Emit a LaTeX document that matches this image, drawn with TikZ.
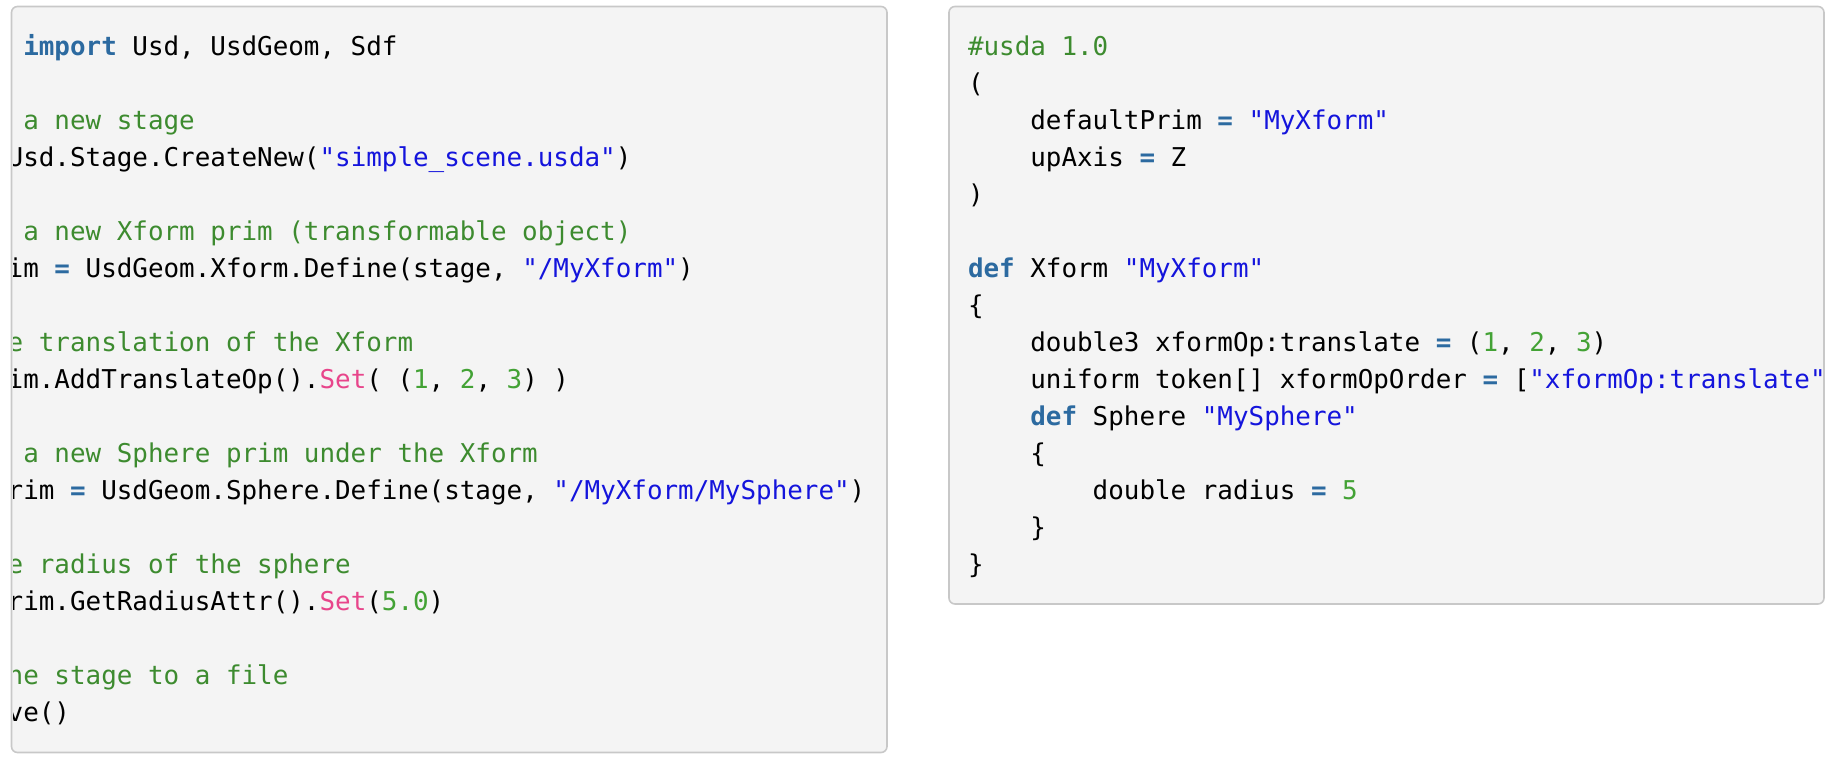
\documentclass[tikz,border=0pt]{standalone}
\usepackage{fontspec}
\setmonofont{DejaVu Sans Mono}
\usepackage{xcolor}
\definecolor{bgc}{HTML}{F4F4F4}
\definecolor{brdc}{HTML}{C8C8C8}
\definecolor{txtc}{HTML}{000000}
\definecolor{cmtc}{HTML}{3D8B2F}
\definecolor{numc}{HTML}{43A235}
\definecolor{kwc}{HTML}{2C6AA0}
\definecolor{strc}{HTML}{1414DC}
\definecolor{fnc}{HTML}{E8458B}
\newcommand\CCmt[1]{\textcolor{cmtc}{#1}}
\newcommand\CNum[1]{\textcolor{numc}{#1}}
\newcommand\CKw[1]{\textcolor{kwc}{\bfseries #1}}
\newcommand\CStr[1]{\textcolor{strc}{#1}}
\newcommand\CFn[1]{\textcolor{fnc}{#1}}
\newcommand\COp{\textcolor{kwc}{\bfseries =}}
\newcommand\codeCW{15.59}
\newcommand\codeLX{-117}
\newcommand\codeRX{968}
\begin{document}
\begin{tikzpicture}[x=1pt,y=-1pt,
  codeline/.style={anchor=base west, inner sep=0pt, outer sep=0pt,
    font=\ttfamily\fontsize{25.9pt}{37pt}\selectfont, text=txtc},
  codebox/.style={fill=bgc, draw=brdc, line width=1.6pt, rounded corners=6pt}]
\useasboundingbox (0,0) rectangle (1832,758);
\draw[codebox] (11.5,6.5) rectangle (887,752.5);
\draw[codebox] (949,6.5) rectangle (1824,604);
% left code (scrolled horizontally)
\begin{scope}
\clip[rounded corners=5pt] (12.5,7.5) rectangle (886,751.5);
\node[codeline] (l1)  at ({\codeLX+9*\codeCW}, {55+0*37})  {\CKw{import} Usd, UsdGeom, Sdf};
\node[codeline] (l3)  at ({\codeLX+9*\codeCW}, {55+2*37})  {\CCmt{a new stage}};
\node[codeline] (l4)  at ({\codeLX+8*\codeCW}, {55+3*37})  {Usd.Stage.CreateNew(\CStr{"simple\_scene.usda"})};
\node[codeline] (l6)  at ({\codeLX+9*\codeCW}, {55+5*37})  {\CCmt{a new Xform prim (transformable object)}};
\node[codeline] (l7)  at ({\codeLX+8*\codeCW}, {55+6*37})  {im \COp\ UsdGeom.Xform.Define(stage, \CStr{"/MyXform"})};
\node[codeline] (l9)  at ({\codeLX+8*\codeCW}, {55+8*37})  {\CCmt{e translation of the Xform}};
\node[codeline] (l10) at ({\codeLX+8*\codeCW}, {55+9*37})  {im.AddTranslateOp().\CFn{Set}( (\CNum{1}, \CNum{2}, \CNum{3}) )};
\node[codeline] (l12) at ({\codeLX+9*\codeCW}, {55+11*37}) {\CCmt{a new Sphere prim under the Xform}};
\node[codeline] (l13) at ({\codeLX+8*\codeCW}, {55+12*37}) {rim \COp\ UsdGeom.Sphere.Define(stage, \CStr{"/MyXform/MySphere"})};
\node[codeline] (l15) at ({\codeLX+8*\codeCW}, {55+14*37}) {\CCmt{e radius of the sphere}};
\node[codeline] (l16) at ({\codeLX+8*\codeCW}, {55+15*37}) {rim.GetRadiusAttr().\CFn{Set}(\CNum{5.0})};
\node[codeline] (l18) at ({\codeLX+8*\codeCW}, {55+17*37}) {\CCmt{he stage to a file}};
\node[codeline] (l19) at ({\codeLX+8*\codeCW}, {55+18*37}) {ve()};
\end{scope}
% right code
\begin{scope}
\clip[rounded corners=5pt] (950,7.5) rectangle (1823,603);
\node[codeline] (r1)  at ({\codeRX+0*\codeCW}, {55+0*37})  {\CCmt{\#usda 1.0}};
\node[codeline] (r2)  at ({\codeRX+0*\codeCW}, {55+1*37})  {(};
\node[codeline] (r3)  at ({\codeRX+4*\codeCW}, {55+2*37})  {defaultPrim \COp\ \CStr{"MyXform"}};
\node[codeline] (r4)  at ({\codeRX+4*\codeCW}, {55+3*37})  {upAxis \COp\ Z};
\node[codeline] (r5)  at ({\codeRX+0*\codeCW}, {55+4*37})  {)};
\node[codeline] (r7)  at ({\codeRX+0*\codeCW}, {55+6*37})  {\CKw{def} Xform \CStr{"MyXform"}};
\node[codeline] (r8)  at ({\codeRX+0*\codeCW}, {55+7*37})  {\{};
\node[codeline] (r9)  at ({\codeRX+4*\codeCW}, {55+8*37})  {double3 xformOp:translate \COp\ (\CNum{1}, \CNum{2}, \CNum{3})};
\node[codeline] (r10) at ({\codeRX+4*\codeCW}, {55+9*37})  {uniform token[] xformOpOrder \COp\ [\CStr{"xformOp:translate"}};
\node[codeline] (r11) at ({\codeRX+4*\codeCW}, {55+10*37}) {\CKw{def} Sphere \CStr{"MySphere"}};
\node[codeline] (r12) at ({\codeRX+4*\codeCW}, {55+11*37}) {\{};
\node[codeline] (r13) at ({\codeRX+8*\codeCW}, {55+12*37}) {double radius \COp\ \CNum{5}};
\node[codeline] (r14) at ({\codeRX+4*\codeCW}, {55+13*37}) {\}};
\node[codeline] (r15) at ({\codeRX+0*\codeCW}, {55+14*37}) {\}};
\end{scope}
\end{tikzpicture}
\end{document}
